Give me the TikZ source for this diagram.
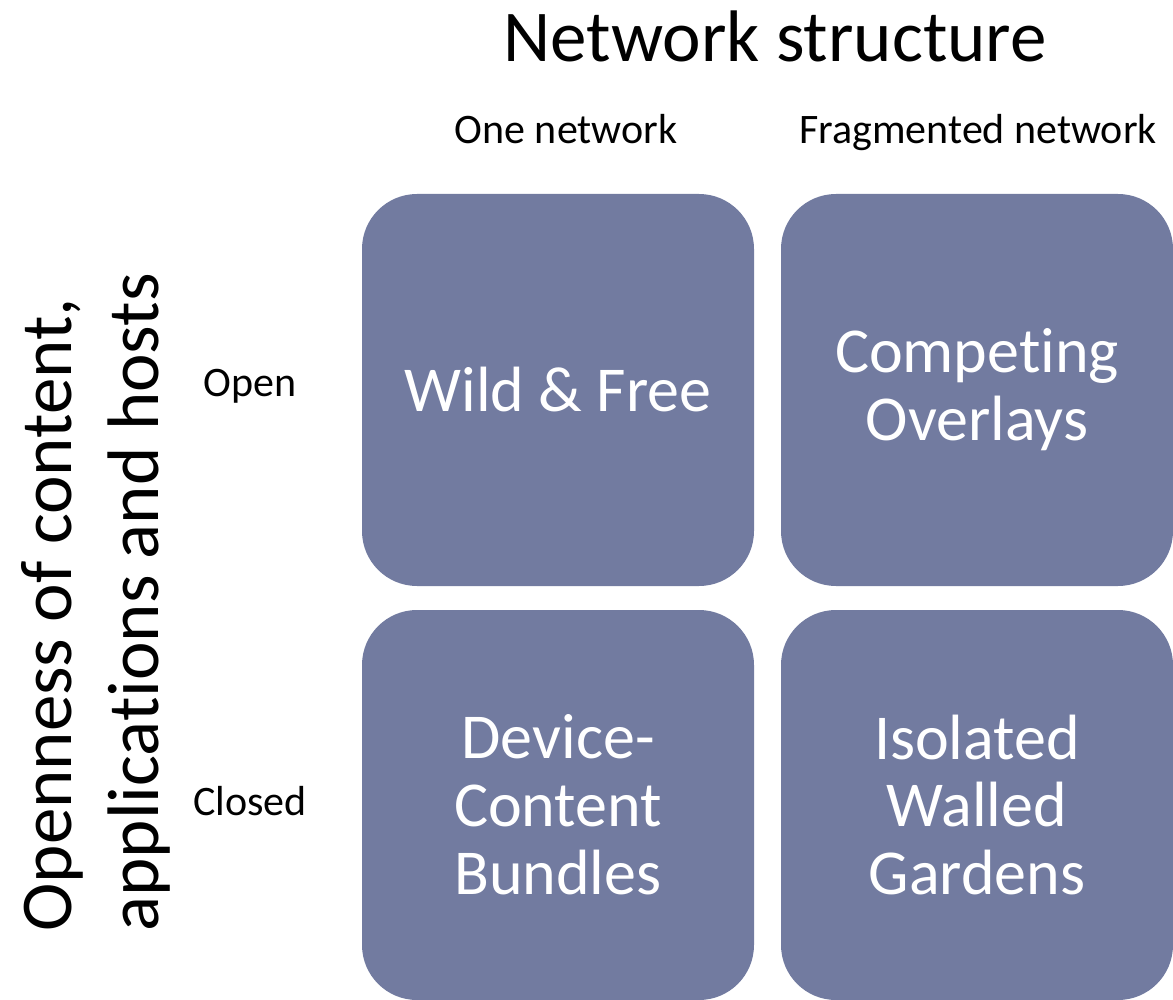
\documentclass[tikz,border=0pt]{standalone}
\usepackage{fontspec}
\setmainfont{Carlito}[RawFeature={-liga;-clig;-dlig;-calt}]
\definecolor{boxfill}{RGB}{114,123,160}
\begin{document}
\begin{tikzpicture}[x=0.5pt,y=-0.5pt,
  box/.style={fill=boxfill, draw=none, rounded corners=27.5pt, minimum width=196pt,
    text=white, align=center, inner sep=0pt, font=\fontsize{32}{33.9}\selectfont},
  big/.style={font=\fontsize{36.5}{44}\selectfont, inner sep=0pt},
  small/.style={font=\fontsize{21}{25}\selectfont, inner sep=0pt}]
\useasboundingbox (0,0) rectangle (1173,1000);
\node[box, minimum height=196pt] (wf) at (558,390) {Wild \& Free};
\node[box, minimum height=196pt] (co) at (977,390) {Competing\\Overlays};
\node[box, minimum height=195pt] (dc) at (558,805) {Device-\\Content\\Bundles};
\node[box, minimum height=195pt] (iw) at (977,805) {Isolated\\Walled\\Gardens};
\node[big, anchor=base] (title) at (775,62) {Network structure};
\node[small, anchor=base] (one) at (566,144) {One network};
\node[small, anchor=base] (frag) at (978,144) {Fragmented network};
\node[small, anchor=base] (open) at (250,396) {Open};
\node[small, anchor=base] (closed) at (250,815) {Closed};
\node[big, rotate=90, anchor=base west] (ylab1) at (71,932) {Openness of content,};
\node[big, rotate=90, anchor=base west] (ylab2) at (158,932) {applications and hosts};
\end{tikzpicture}
\end{document}
